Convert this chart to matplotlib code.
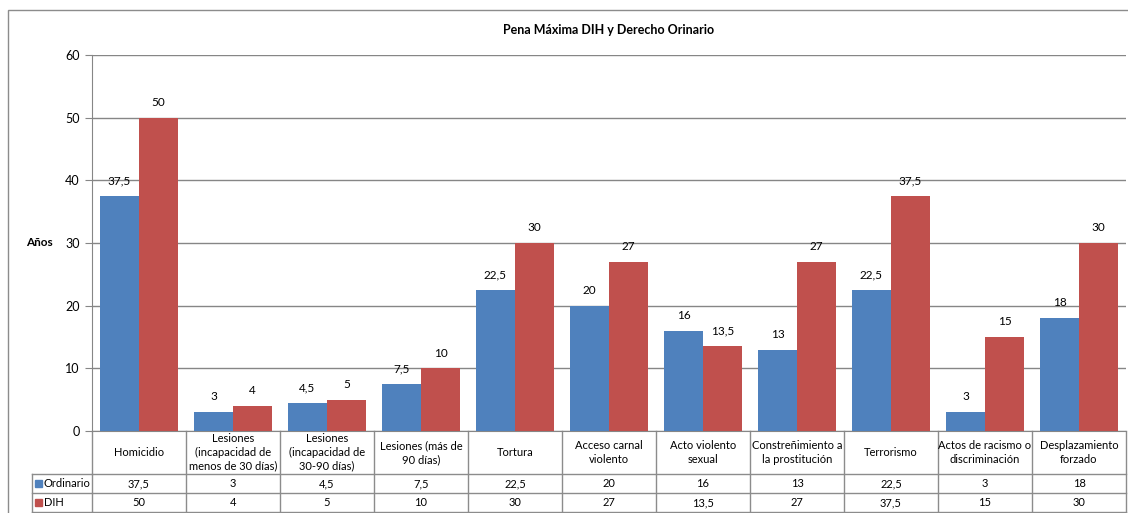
import matplotlib.pyplot as plt
import matplotlib.transforms as mtransforms
from matplotlib.patches import Rectangle
import numpy as np

plt.rcParams['font.family'] = ['Lato', 'DejaVu Sans']

categories = ['Homicidio', 'Lesiones\n(incapacidad de\nmenos de 30 días)',
              'Lesiones\n(incapacidad de\n30-90 días)', 'Lesiones (más de\n90 días)',
              'Tortura', 'Acceso carnal\nviolento', 'Acto violento\nsexual',
              'Constreñimiento a\nla prostitución', 'Terrorismo',
              'Actos de racismo o\ndiscriminación', 'Desplazamiento\nforzado']
ordinario = [37.5, 3, 4.5, 7.5, 22.5, 20, 16, 13, 22.5, 3, 18]
dih = [50, 4, 5, 10, 30, 27, 13.5, 27, 37.5, 15, 30]
series_names = ['Ordinario', 'DIH']
colors = ['#4F81BD', '#C0504D']

W, H = 1128, 513
fig = plt.figure(figsize=(W / 100, H / 100), dpi=100)
ax = fig.add_axes([92 / W, (H - 431) / H, (1126 - 92) / W, (431 - 55) / H])

# outer chart frame
fig.patches.append(Rectangle((8 / W, -0.1), 1.2, (H - 10) / H + 0.1, transform=fig.transFigure,
                             fill=False, edgecolor='#8c8c8c', linewidth=1))

x = np.arange(len(categories))
bw = 0.415
ax.bar(x - bw / 2, ordinario, bw, color=colors[0], zorder=3)
ax.bar(x + bw / 2, dih, bw, color=colors[1], zorder=3)

def fmt(v):
    return ('%g' % v).replace('.', ',')

for xi, a, b in zip(x, ordinario, dih):
    ax.annotate(fmt(a), (xi - bw / 2, a), xytext=(0, 7), textcoords='offset points',
                ha='center', va='bottom', fontsize=8.5)
    ax.annotate(fmt(b), (xi + bw / 2, b), xytext=(0, 7), textcoords='offset points',
                ha='center', va='bottom', fontsize=8.5)

ax.set_xlim(-0.5, len(categories) - 0.5)
ax.set_ylim(0, 60)
ax.set_yticks(range(0, 61, 10))
ax.tick_params(axis='y', labelsize=9, length=5, color='#868686', pad=4)
ax.set_xticks([])
ax.yaxis.grid(True, color='#868686', linewidth=1)
ax.set_axisbelow(True)
for s in ['top', 'right']:
    ax.spines[s].set_visible(False)
ax.spines['left'].set_color('#868686')
ax.spines['bottom'].set_color('#868686')

ax.set_title('Pena Máxima DIH y Derecho Orinario', fontsize=9, fontweight='bold', pad=15)
fig.text(26 / W, (H - 243) / H, 'Años', fontsize=8.5, fontweight='bold', ha='left', va='center')

# data table below
trans = mtransforms.blended_transform_factory(ax.transData, ax.transAxes)
ah = 431 - 55
def ay(py):
    return -(py - 431) / ah

lc = '#8c8c8c'
for k in range(len(categories) + 1):
    ax.plot([k - 0.5, k - 0.5], [0, ay(513)], transform=trans, color=lc, lw=1, clip_on=False)
for py in [474, 493, 512]:
    ax.plot([-0.5, len(categories) - 0.5], [ay(py), ay(py)], transform=trans,
            color=lc, lw=1, clip_on=False)
    fig.add_artist(plt.Line2D([32 / W, 92 / W], [(H - py) / H] * 2, color=lc, lw=1))
fig.add_artist(plt.Line2D([32 / W, 32 / W], [(H - 474) / H, 0], color=lc, lw=1))

for xi, c in zip(x, categories):
    ax.text(xi, ay(452.5), c, transform=trans, ha='center', va='center',
            fontsize=8, linespacing=1.3)
rows = [ordinario, dih]
for r, (vals, py) in enumerate(zip(rows, [483.5, 502.5])):
    for xi, v in zip(x, vals):
        ax.text(xi, ay(py), fmt(v), transform=trans, ha='center', va='center', fontsize=8)
    fig.patches.append(Rectangle((35 / W, (H - py - 3.5) / H), 7 / W, 7 / H,
                                 transform=fig.transFigure, color=colors[r]))
    fig.text(44 / W, (H - py) / H, series_names[r], fontsize=8, ha='left', va='center')

fig.savefig('out.png', dpi=100)
